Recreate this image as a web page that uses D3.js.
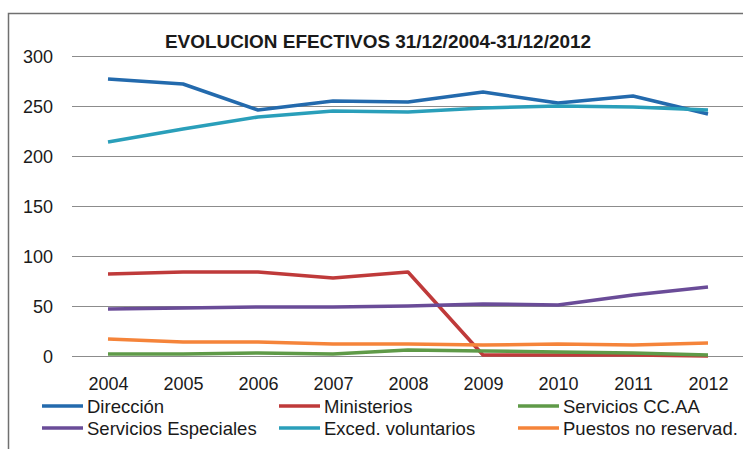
<!DOCTYPE html>
<html>
<head>
<meta charset="utf-8">
<script src="https://cdn.jsdelivr.net/npm/d3@7"></script>
<style>
  html, body { margin: 0; padding: 0; background: #fff; }
  svg { display: block; }
  text { font-family: "Liberation Sans", Arial, sans-serif; fill: #1a1a1a; }
</style>
</head>
<body>
<svg id="chart" width="743" height="449"></svg>
<script>
// Years on the category axis
const years = ["2004", "2005", "2006", "2007", "2008", "2009", "2010", "2011", "2012"];

// Headcount per group at 31/12 of each year
const direccion = [277, 272, 246, 255, 254, 264, 253, 260, 242];
const ministerios = [82, 84, 84, 78, 84, 1, 1, 1, 0];
const serviciosCCAA = [2, 2, 3, 2, 6, 5, 4, 3, 1];
const serviciosEspeciales = [47, 48, 49, 49, 50, 52, 51, 61, 69];
const excedVoluntarios = [214, 227, 239, 245, 244, 248, 250, 249, 246];
const puestosNoReservados = [17, 14, 14, 12, 12, 11, 12, 11, 13];

const yTicks = [0, 50, 100, 150, 200, 250, 300];
const title = "EVOLUCION EFECTIVOS 31/12/2004-31/12/2012";

const series = [
  { name: "Dirección", values: direccion, color: "#236aad" },
  { name: "Ministerios", values: ministerios, color: "#bf3a3a" },
  { name: "Servicios CC.AA", values: serviciosCCAA, color: "#5f9a48" },
  { name: "Servicios Especiales", values: serviciosEspeciales, color: "#6a4c98" },
  { name: "Exced. voluntarios", values: excedVoluntarios, color: "#2a9fba" },
  { name: "Puestos no reservad.", values: puestosNoReservados, color: "#f5843a" }
];

const svg = d3.select("#chart");

// Outer chart frame
svg.append("rect")
  .attr("x", 8.5).attr("y", 13.5)
  .attr("width", 760).attr("height", 460)
  .attr("fill", "none").attr("stroke", "#707070").attr("stroke-width", 1.5);

const plot = { left: 72, right: 743, top: 56, bottom: 356 };

const x = d3.scalePoint().domain(years).range([108, 708]);
const y = d3.scaleLinear().domain([0, 300]).range([plot.bottom, plot.top]);

// Horizontal gridlines
svg.append("g")
  .selectAll("line")
  .data(yTicks)
  .join("line")
  .attr("x1", plot.left).attr("x2", plot.right)
  .attr("y1", d => Math.round(y(d)) + 0.5).attr("y2", d => Math.round(y(d)) + 0.5)
  .attr("stroke", "#8c8c8c").attr("stroke-width", 1);

// Value axis labels
const yAxis = d3.axisLeft(y).tickValues(yTicks).tickSize(0).tickPadding(0);
const gy = svg.append("g").attr("transform", "translate(53,0)").call(yAxis);
gy.select(".domain").remove();
gy.selectAll("text")
  .attr("dy", "0.36em")
  .style("font-size", "18px")
  .style("font-family", "'Liberation Sans', Arial, sans-serif")
  .attr("fill", "#1a1a1a");

// Category axis labels
const xAxis = d3.axisBottom(x).tickSize(0).tickPadding(0);
const gx = svg.append("g").attr("transform", "translate(0,377)").call(xAxis);
gx.select(".domain").remove();
gx.selectAll("text")
  .attr("dy", "0.71em")
  .style("font-size", "18px")
  .style("font-family", "'Liberation Sans', Arial, sans-serif")
  .attr("fill", "#1a1a1a");

// Series lines
const line = d3.line()
  .x((d, i) => x(years[i]))
  .y(d => y(d));

svg.append("g")
  .selectAll("path")
  .data(series)
  .join("path")
  .attr("d", d => line(d.values))
  .attr("fill", "none")
  .attr("stroke", d => d.color)
  .attr("stroke-width", 3.5)
  .attr("stroke-linejoin", "round")
  .attr("stroke-linecap", "butt");

// Title
svg.append("text")
  .attr("x", 165).attr("y", 48)
  .attr("textLength", 426).attr("lengthAdjust", "spacingAndGlyphs")
  .style("font-size", "18px").style("font-weight", "bold")
  .text(title);

// Legend: three columns, two rows
const legendCols = [42, 279, 518];
const legendRows = [406, 428];
const legend = svg.append("g")
  .selectAll("g")
  .data(series)
  .join("g")
  .attr("transform", (d, i) => `translate(${legendCols[i % 3]},${legendRows[Math.floor(i / 3)]})`);

legend.append("line")
  .attr("x1", 0).attr("x2", 41)
  .attr("y1", 0).attr("y2", 0)
  .attr("stroke", d => d.color).attr("stroke-width", 3.5);

legend.append("text")
  .attr("x", 45).attr("y", 0).attr("dy", "0.36em")
  .style("font-size", "18.5px")
  .text(d => d.name);
</script>
</body>
</html>
